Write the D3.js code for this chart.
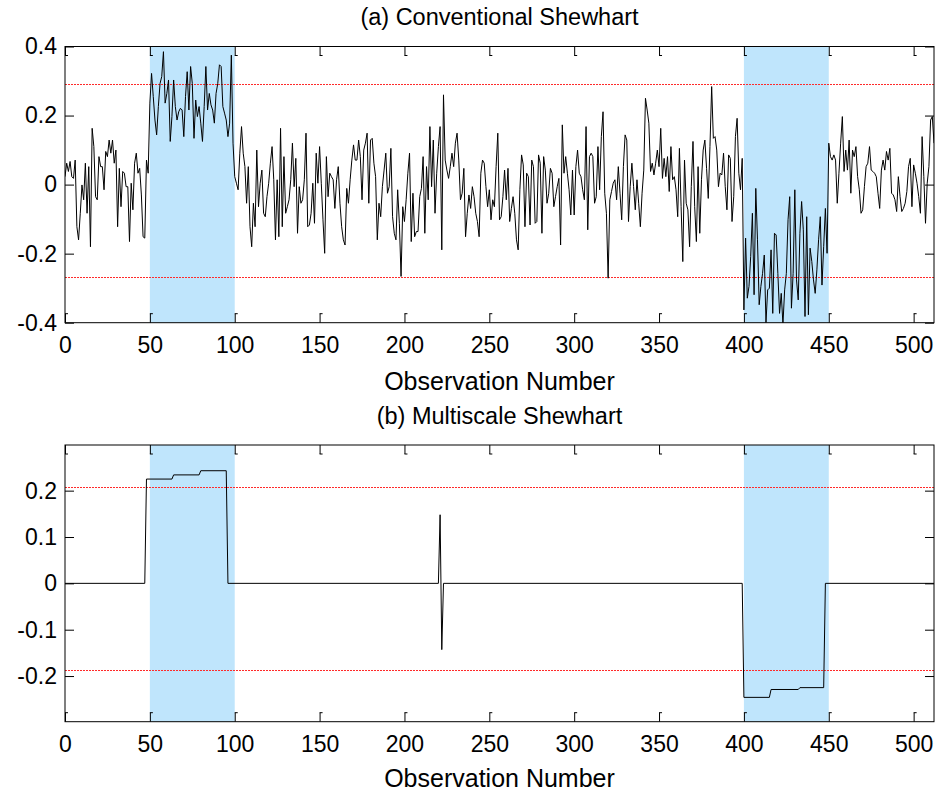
<!DOCTYPE html>
<html>
<head>
<meta charset="utf-8">
<script src="https://cdn.jsdelivr.net/npm/d3@7"></script>
<style>
  html, body { margin: 0; padding: 0; background: #fff; }
  svg { display: block; font-family: "Liberation Sans", Arial, sans-serif; }
</style>
</head>
<body>
<div id="chart"></div>
<script>
const obsA = [
  0.023, 0.062, 0.038, 0.067, 0.023, 0.018, 0.071, -0.122, -0.160, -0.083,
  -0.001, -0.044, 0.062, -0.083, 0.052, -0.180, 0.163, 0.110, -0.035, -0.044,
  0.081, 0.052, 0.052, -0.015, 0.096, 0.081, 0.129, 0.091, 0.129, 0.062,
  0.100, -0.122, 0.047, -0.064, 0.038, 0.033, -0.006, -0.006, -0.165, 0.004,
  -0.073, 0.062, 0.091, 0.033, 0.047, -0.030, -0.151, -0.155, 0.071, 0.033,
  0.236, 0.322, 0.255, 0.187, 0.144, 0.226, 0.293, 0.313, 0.385, 0.236,
  0.264, 0.303, 0.125,
  0.197, 0.303, 0.226, 0.187, 0.211, 0.221, 0.216, 0.139, 0.255, 0.327,
  0.216, 0.342, 0.293, 0.134, 0.245, 0.197, 0.226, 0.178, 0.125, 0.226,
  0.342, 0.216, 0.264, 0.231, 0.216, 0.178, 0.264, 0.293, 0.347, 0.342,
  0.226, 0.207, 0.187, 0.139, 0.178, 0.375,
  0.120, 0.023, 0.004, -0.015, 0.091, 0.168, 0.091, 0.052, -0.054, 0.052,
  -0.122, -0.180, -0.054, -0.122, 0.100, -0.064, 0.004, 0.042, -0.083, -0.093,
  -0.035, 0.004, 0.062, 0.110, 0.014, -0.160, 0.014, -0.151,
  0.163, -0.122, 0.081, -0.083, -0.064, -0.044, 0.014, 0.120, -0.006, 0.076,
  -0.141, -0.006, -0.054, -0.044, 0.014, 0.149, -0.122, -0.117, -0.083, 0.004,
  -0.112, 0.091, 0.004, 0.110, 0.004, -0.102, -0.199, 0.081, -0.035, 0.033,
  0.023, 0.014, -0.069, 0.014, 0.052, -0.054, -0.122, -0.160, -0.175, -0.011,
  -0.054, 0.014, 0.071, 0.115, 0.071, 0.071, 0.129, 0.081, -0.044, 0.100,
  0.120, 0.149, -0.054, 0.129, 0.134, 0.062, 0.023, -0.160, -0.054, -0.093,
  -0.006, 0.042, 0.091, -0.025, -0.006,
  0.105, -0.093, -0.141, -0.160, -0.015, -0.112, -0.266, -0.064, -0.107, -0.044,
  0.033, 0.091, -0.165, -0.025, -0.151, -0.136, -0.136, -0.035, -0.011, 0.081,
  -0.141, 0.052, -0.044, 0.168, -0.006, 0.129, -0.083, 0.033, 0.110, 0.168,
  -0.189, 0.260, 0.071, 0.042, 0.018, 0.052, 0.091, 0.052, 0.120, 0.149,
  0.071, -0.044, -0.025, 0.047, -0.151, -0.083, -0.030, -0.069, -0.006, -0.035,
  -0.083, -0.107, -0.151, 0.033, 0.071, 0.062, -0.006, -0.064, -0.015, -0.102,
  -0.044, -0.064, 0.052, 0.149, -0.102,
  -0.093, -0.035, 0.042, -0.044, 0.047, -0.107, -0.069, -0.035, -0.083, -0.160,
  -0.189, -0.015, 0.086, 0.057, -0.122, 0.033, 0.023, -0.117, 0.071, 0.052,
  -0.112, -0.107, 0.086, 0.062, -0.141, 0.081, 0.042, -0.054, -0.025, 0.047,
  0.033, -0.064, -0.035, -0.006, 0.018, -0.175, 0.173, 0.033, 0.081, 0.033,
  -0.015, -0.088, 0.042, -0.088, 0.052, 0.100, 0.033, 0.023, -0.015, -0.044,
  0.168, -0.131, 0.081, 0.091, 0.081, -0.054, -0.035, 0.110, -0.015, 0.139,
  0.211, -0.025, -0.083, -0.271, -0.044,
  -0.020, 0.004, 0.014, -0.044, 0.052, -0.025, -0.102, 0.052, 0.144, 0.129,
  -0.107, -0.006, 0.062, -0.006, -0.073, 0.014, -0.054, -0.122, -0.025, 0.042,
  0.250, 0.216, 0.178, 0.038, 0.062, 0.028, 0.062, 0.100, 0.052, 0.163,
  0.018, 0.076, 0.023, 0.081, -0.020, 0.110, 0.014, 0.023, -0.015, -0.093,
  0.105, -0.064, -0.223, 0.071, -0.054, -0.073, -0.180, -0.006, 0.125, -0.064,
  -0.165, 0.052, -0.141, 0.014, 0.100, 0.129, 0.047, -0.040, 0.110, 0.284,
  0.134, 0.139, 0.100, -0.006, 0.033,
  0.028, 0.091, -0.006, -0.073, 0.086, 0.076, -0.107, -0.035, 0.139, 0.192,
  0.033, -0.015, 0.076, -0.363, -0.155, -0.329, -0.295, -0.208, -0.083, -0.319,
  -0.011, -0.160, -0.348, -0.295, -0.257, -0.204, -0.400, -0.305, -0.300, -0.189,
  -0.373, -0.141, -0.146, -0.257, -0.373, -0.315, -0.405, -0.305, -0.257, -0.102,
  -0.035, -0.358, -0.257, -0.015, -0.276, -0.334, -0.141, -0.049, -0.131, -0.382,
  -0.093, -0.377, -0.184, -0.223, -0.276, -0.315, -0.247, -0.160, -0.093, -0.291,
  -0.180, -0.069, -0.199, 0.120, 0.081,
  0.071, 0.086, 0.071, -0.054, 0.033, 0.120, 0.197, 0.038, 0.100, 0.042,
  0.129, -0.025, 0.100, 0.081, 0.110, 0.023, -0.015, -0.083, -0.073, -0.006,
  0.052, 0.062, 0.110, 0.042, 0.038, 0.033, 0.023, -0.025, -0.069, 0.042,
  0.071, 0.042, 0.096, 0.071, 0.105, -0.025, -0.030, -0.044, -0.078, 0.023,
  -0.035, -0.078, -0.069, -0.054, -0.020, 0.052, 0.076, -0.064, 0.057, 0.033,
  0.004, -0.035, -0.083, 0.139, 0.023, -0.112, 0.004, 0.052, 0.187, 0.197,
  0.120
];

// multiscale result (panel b): vertices of the step trace
const msX = [0, 47, 48, 63, 64, 79, 80, 95, 96, 220, 221, 222, 223, 399, 400, 415, 416, 432, 433, 447, 448, 512];
const msY = [0, 0, 0.225, 0.225, 0.234, 0.234, 0.243, 0.243, 0, 0, 0.148, -0.143, 0, 0, -0.246, -0.246, -0.229, -0.229, -0.225, -0.225, 0, 0];

// fault windows and control limits
const faultWindows = [[50, 100], [400, 450]];
const limitsA = [0.291, -0.267];
const limitsB = [0.208, -0.186];

const xTicks = [0, 50, 100, 150, 200, 250, 300, 350, 400, 450, 500];
const yTicksA = [-0.4, -0.2, 0, 0.2, 0.4];
const yTicksB = [-0.2, -0.1, 0, 0.1, 0.2];

const width = 938, height = 793;
const tickFont = 23, titleFont = 23.5, labelFont = 25;
const fontFamily = '"Liberation Sans", Arial, sans-serif';

const svg = d3.select('#chart').append('svg')
  .attr('width', width)
  .attr('height', height);

function drawPanel(cfg) {
  const x = d3.scaleLinear().domain([0, 512]).range([cfg.left, cfg.right]);
  const y = d3.scaleLinear().domain(cfg.yDomain).range([cfg.bottom, cfg.top]);
  const g = svg.append('g');

  const clipId = 'clip-' + cfg.id;
  svg.append('clipPath').attr('id', clipId)
    .append('rect')
    .attr('x', cfg.left).attr('y', cfg.top)
    .attr('width', cfg.right - cfg.left).attr('height', cfg.bottom - cfg.top);

  // shaded fault windows
  g.selectAll('rect.win').data(faultWindows).enter().append('rect')
    .attr('class', 'win')
    .attr('x', d => x(d[0]))
    .attr('width', d => x(d[1]) - x(d[0]))
    .attr('y', cfg.top)
    .attr('height', cfg.bottom - cfg.top)
    .attr('fill', '#bfe5fc');

  // control limits (dotted red)
  g.selectAll('line.lim').data(cfg.limits).enter().append('line')
    .attr('class', 'lim')
    .attr('x1', cfg.left).attr('x2', cfg.right)
    .attr('y1', d => Math.round(y(d)) + 0.5).attr('y2', d => Math.round(y(d)) + 0.5)
    .attr('shape-rendering', 'crispEdges')
    .style('stroke', '#ff2a2a')
    .style('stroke-width', 1)
    .style('stroke-dasharray', '2,1');

  // data trace
  const line = d3.line().x(d => x(d[0])).y(d => y(d[1]));
  g.append('path')
    .datum(cfg.points)
    .attr('clip-path', `url(#${clipId})`)
    .attr('d', line)
    .attr('fill', 'none')
    .attr('stroke', '#000')
    .attr('stroke-width', 1)
    .attr('stroke-linejoin', 'round');

  // axes: ticks inward on all four sides
  const tick = 9;
  const fmt = d => String(d);
  const axes = g.append('g');
  axes.append('g').attr('transform', `translate(${cfg.left},0)`)
    .call(d3.axisLeft(y).tickValues(cfg.yTicks).tickSize(-tick).tickPadding(8).tickFormat(fmt));
  axes.append('g').attr('transform', `translate(${cfg.right},0)`)
    .call(d3.axisRight(y).tickValues(cfg.yTicks).tickSize(-tick).tickFormat(''));
  axes.append('g').attr('transform', `translate(0,${cfg.bottom})`)
    .call(d3.axisBottom(x).tickValues(xTicks).tickSize(-tick).tickPadding(14).tickFormat(d3.format('d')));
  axes.append('g').attr('transform', `translate(0,${cfg.top})`)
    .call(d3.axisTop(x).tickValues(xTicks).tickSize(-tick).tickFormat(''));

  axes.selectAll('.domain').remove();
  axes.selectAll('.tick line').attr('stroke', '#000');
  axes.selectAll('.tick text')
    .attr('fill', '#000')
    .style('font-size', tickFont + 'px')
    .style('font-family', fontFamily);

  // small feet on the x ticks, like the matlab export
  axes.selectAll('line.foot-top').data(xTicks).enter().append('line')
    .attr('x1', d => x(d)).attr('x2', d => x(d) + 3)
    .attr('y1', cfg.top + tick).attr('y2', cfg.top + tick)
    .attr('stroke', '#000');
  axes.selectAll('line.foot-bot').data(xTicks).enter().append('line')
    .attr('x1', d => x(d)).attr('x2', d => x(d) + 3)
    .attr('y1', cfg.bottom - tick).attr('y2', cfg.bottom - tick)
    .attr('stroke', '#000');

  // box
  g.append('rect')
    .attr('x', cfg.left).attr('y', cfg.top)
    .attr('width', cfg.right - cfg.left).attr('height', cfg.bottom - cfg.top)
    .attr('fill', 'none').attr('stroke', '#000').attr('stroke-width', 1);

  // title and x label
  const cx = (cfg.left + cfg.right) / 2;
  g.append('text').attr('x', cx).attr('y', cfg.titleY)
    .attr('text-anchor', 'middle').style('font-size', titleFont + 'px')
    .text(cfg.title);
  g.append('text').attr('x', cx).attr('y', cfg.labelY)
    .attr('text-anchor', 'middle').style('font-size', labelFont + 'px')
    .text('Observation Number');
}

drawPanel({
  id: 'a',
  left: 65, right: 934, top: 46.5, bottom: 322.7,
  yDomain: [-0.4, 0.4],
  yTicks: yTicksA,
  limits: limitsA,
  points: obsA.map((v, i) => [i, v]),
  title: '(a) Conventional Shewhart',
  titleY: 25,
  labelY: 390
});

drawPanel({
  id: 'b',
  left: 65, right: 934, top: 445, bottom: 721.7,
  yDomain: [-0.2985, 0.2985],
  yTicks: yTicksB,
  limits: limitsB,
  points: msX.map((v, i) => [v, msY[i]]),
  title: '(b) Multiscale Shewhart',
  titleY: 424,
  labelY: 787
});
</script>
</body>
</html>
